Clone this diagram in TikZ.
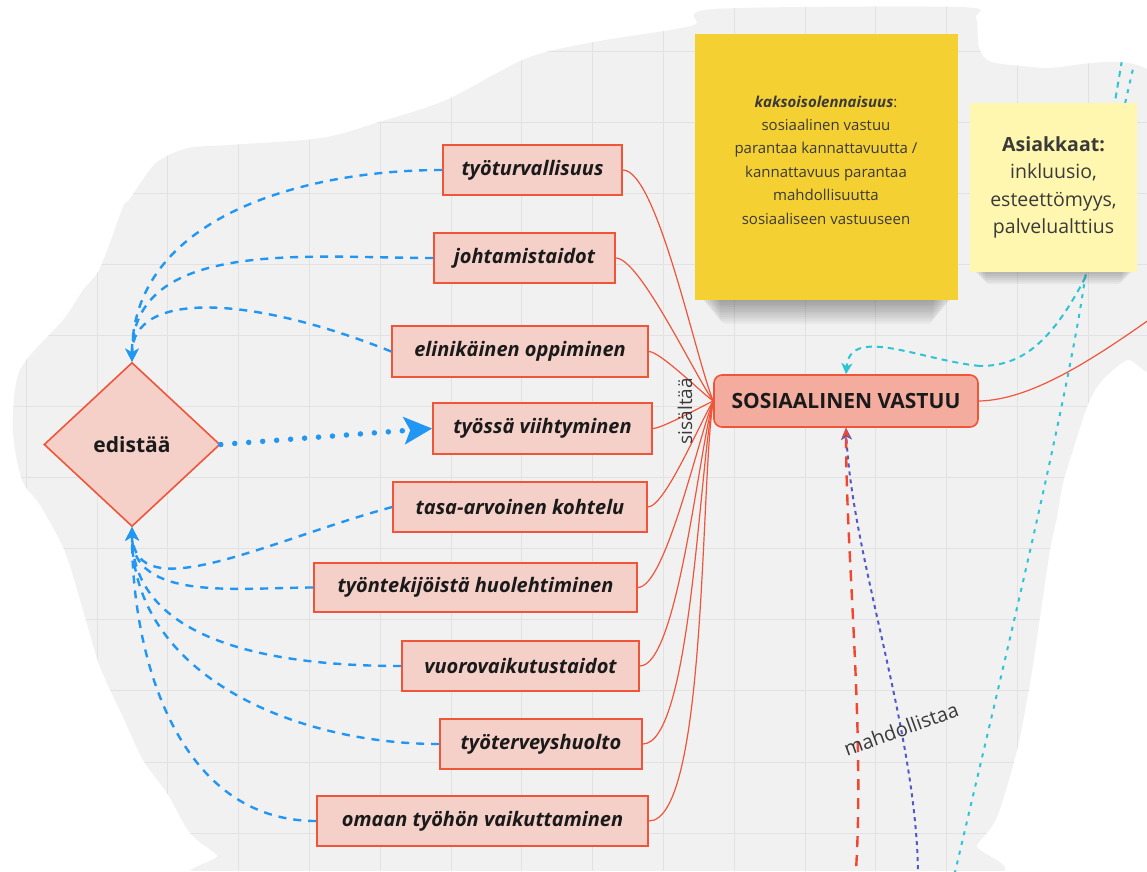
\documentclass[tikz,border=0pt]{standalone}
\usepackage{fontspec}
\setmainfont{Open Sans}
\usetikzlibrary{arrows.meta,shapes.geometric}
\definecolor{bg}{HTML}{F1F1F1}
\definecolor{gridc}{HTML}{E2E2E2}
\definecolor{boxfill}{HTML}{F5D0C9}
\definecolor{boxdraw}{HTML}{F0553A}
\definecolor{svfill}{HTML}{F4AC9E}
\definecolor{bluec}{HTML}{2196F3}
\definecolor{cyanc}{HTML}{2EC4D4}
\definecolor{purplec}{HTML}{5257C9}
\definecolor{redd}{HTML}{F2462E}
\definecolor{notea}{HTML}{F5D033}
\definecolor{noteb}{HTML}{FFF7B0}
\definecolor{txt}{HTML}{1A1A1A}
\definecolor{lbl}{HTML}{3A3A3A}
\begin{document}
\begin{tikzpicture}[x=1pt,y=-1pt,
  itembox/.style={draw=boxdraw, line width=1.6pt, fill=boxfill, text=txt,
    font=\fontsize{20}{24}\selectfont\bfseries\itshape, inner sep=0pt, minimum height=50pt},
  redline/.style={draw=boxdraw, line width=1.2pt},
  fan/.style={out looseness=0.35, in looseness=0.5},
  bdash/.style={draw=bluec, line width=2.4pt, dash pattern=on 8pt off 7pt,
    -{Stealth[length=13pt,width=13pt,inset=4pt]}},
  notebox/.style={inner sep=0pt, text=lbl, align=center}
]
\useasboundingbox (0,0) rectangle (1147,871);
\begin{scope}
\clip plot[smooth cycle, tension=0.5] coordinates {
 (129,200) (156,163) (188,148) (228,145) (321,138) (379,122) (446,100) (527,58)
 (594,42) (670,30) (696,24) (714,9) (960,7) (976,18) (979,48) (992,62) (1040,68)
 (1160,84) (1160,356) (1127,360) (1100,383) (1087,407) (1073,450) (1063,483)
 (1057,517) (1050,550) (1040,617) (1030,683) (1017,750) (997,817) (977,845)
 (955,880) (240,880) (217,855) (190,833) (167,793) (143,760) (123,717) (100,667)
 (85,617) (65,552) (40,505) (22,480) (13,430) (20,370) (63,320) (83,290)
 (100,268) (123,207)};
\fill[bg] (0,0) rectangle (1147,871);
\foreach \i in {0,...,16} \draw[gridc, line width=1pt] ({26.2+70.8*\i},0) -- ++(0,871);
\foreach \j in {0,...,12} \draw[gridc, line width=1pt] (0,{51+71.1*\j}) -- ++(1147,0);

% nodes
\node[itembox, minimum width=179pt] (n1) at (532.5,170) {työturvallisuus};
\node[itembox, minimum width=181pt] (n2) at (524.5,258) {johtamistaidot};
\node[itembox, minimum width=256pt, minimum height=51pt] (n3) at (520,351.5) {elinikäinen oppiminen};
\node[itembox, minimum width=219pt, minimum height=51pt] (n4) at (542.5,428.5) {työssä viihtyminen};
\node[itembox, minimum width=254pt] (n5) at (520,507) {tasa-arvoinen kohtelu};
\node[itembox, minimum width=323pt, minimum height=49pt] (n6) at (475.5,587.5) {työntekijöistä huolehtiminen};
\node[itembox, minimum width=237pt] (n7) at (520.5,666) {vuorovaikutustaidot};
\node[itembox, minimum width=202pt] (n8) at (541,744) {työterveyshuolto};
\node[itembox, minimum width=331pt] (n9) at (482.5,821) {omaan työhön vaikuttaminen};
\node[draw=boxdraw, line width=1.6pt, fill=svfill, rounded corners=8pt, text=txt,
  font=\fontsize{21}{25}\selectfont\bfseries, inner sep=0pt, minimum width=264pt,
  minimum height=52pt] (sv) at (846,401) {SOSIAALINEN VASTUU};
\node[diamond, draw=boxdraw, line width=1.6pt, fill=boxfill, text=txt, inner sep=0pt,
  minimum width=176pt, minimum height=164pt, font=\fontsize{21}{24}\selectfont\bfseries]
  (dm) at (132,444.5) {edistää};

% red connectors
\draw[redline] (n1.east) to[out=0,in=112,fan] (sv.west);
\draw[redline] (n2.east) to[out=0,in=125,fan] (sv.west);
\draw[redline] (n3.east) to[out=0,in=144,fan] (sv.west);
\draw[redline] (n4.east) to[out=0,in=205,fan] (sv.west);
\draw[redline] (n5.east) to[out=0,in=238,fan] (sv.west);
\draw[redline] (n6.east) to[out=0,in=248,fan] (sv.west);
\draw[redline] (n7.east) to[out=0,in=254,fan] (sv.west);
\draw[redline] (n8.east) to[out=0,in=258,fan] (sv.west);
\draw[redline] (n9.east) to[out=0,in=261,fan] (sv.west);
\node[rotate=90, text=lbl, font=\fontsize{19}{22}\selectfont, inner sep=1pt] (sis) at (685,411) {sisältää};

% blue dashed connectors
\draw[bdash] (n1.west) to[out=180,in=90] (dm.north);
\draw[bdash] (n2.west) to[out=180,in=90] (dm.north);
\draw[bdash] (n3.west) .. controls (250,295) and (132,290) .. (dm.north);
\draw[bdash] (n5.west) .. controls (270,540) and (135,610) .. (dm.south);
\draw[bdash] (n6.west) to[out=180,in=270] (dm.south);
\draw[bdash] (n7.west) to[out=180,in=270] (dm.south);
\draw[bdash] (n8.west) to[out=180,in=270] (dm.south);
\draw[bdash] (n9.west) to[out=180,in=270] (dm.south);
\draw[bluec, line width=5.5pt, dash pattern=on 0pt off 14pt, line cap=round,
  -{Stealth[length=28pt,width=27pt,inset=6pt]}] (dm.east) -- (n4.west);

% cyan lines
\coordinate (ct1) at (1122,60);
\coordinate (ct2) at (1135,60);
\coordinate (cm) at (1085,278);
\coordinate (cb) at (952,885);
\draw[cyanc, line width=2pt, dash pattern=on 6pt off 5pt] (ct1) -- (cm)
  .. controls (1050,345) and (1020,366) .. (980,366);
\draw[cyanc, line width=2pt, dash pattern=on 6pt off 5pt, -{Stealth[length=11pt,width=11pt,inset=3pt]}]
  (980,366) .. controls (920,360) and (850,325) .. (sv.north);
\draw[cyanc, line width=2pt, dash pattern=on 4pt off 6pt] (ct2) -- (cm)
  .. controls (1068,400) and (1000,680) .. (cb);

% bottom connectors
\coordinate (pb) at (918,885);
\coordinate (rb) at (855,885);
\coordinate (rr) at (1160,312);
\draw[purplec, line width=2pt, dash pattern=on 4pt off 4pt, -{Stealth[length=12pt,width=11pt,inset=3pt]}]
  (pb) .. controls (920,740) and (852,560) .. (sv.south);
\draw[redd, line width=2.4pt, dash pattern=on 11pt off 8pt, -{Stealth[length=10pt,width=8pt,inset=3pt]}]
  (rb) .. controls (866,740) and (846,560) .. (sv.south);
\draw[redline] (sv.east) .. controls (1030,400) and (1090,362) .. (rr);
\node[rotate=20, text=lbl, font=\fontsize{20}{22}\selectfont, inner sep=1pt] (mh) at (901,729) {mahdollistaa};

% notes
\foreach \k in {1,...,10}
  \fill[black, opacity=0.035, rounded corners=6pt] ({700+2*\k},290) rectangle ({953-2*\k},{300+2.4*\k});
\node[fill=notea, minimum width=263pt, minimum height=266pt, inner sep=0pt] (na) at (826.5,167) {};
\node[notebox, font=\fontsize{15}{23.4}\selectfont] (nat) at (826,160)
  {\textbf{\textit{kaksoisolennaisuus}}:\\ sosiaalinen vastuu\\ parantaa kannattavuutta /\\ kannattavuus parantaa\\ mahdollisuutta\\ sosiaaliseen vastuuseen};
\foreach \k in {1,...,6}
  \fill[black, opacity=0.045, rounded corners=4pt] ({973+2*\k},264) rectangle ({1134-2*\k},{272+2*\k});
\node[notebox, fill=noteb, minimum width=167pt, minimum height=169pt,
  font=\fontsize{19.5}{27.3}\selectfont] (nb) at (1053.5,187.5)
  {\textbf{Asiakkaat:}\\ inkluusio,\\ esteettömyys,\\ palvelualttius};
\end{scope}
\end{tikzpicture}
\end{document}
